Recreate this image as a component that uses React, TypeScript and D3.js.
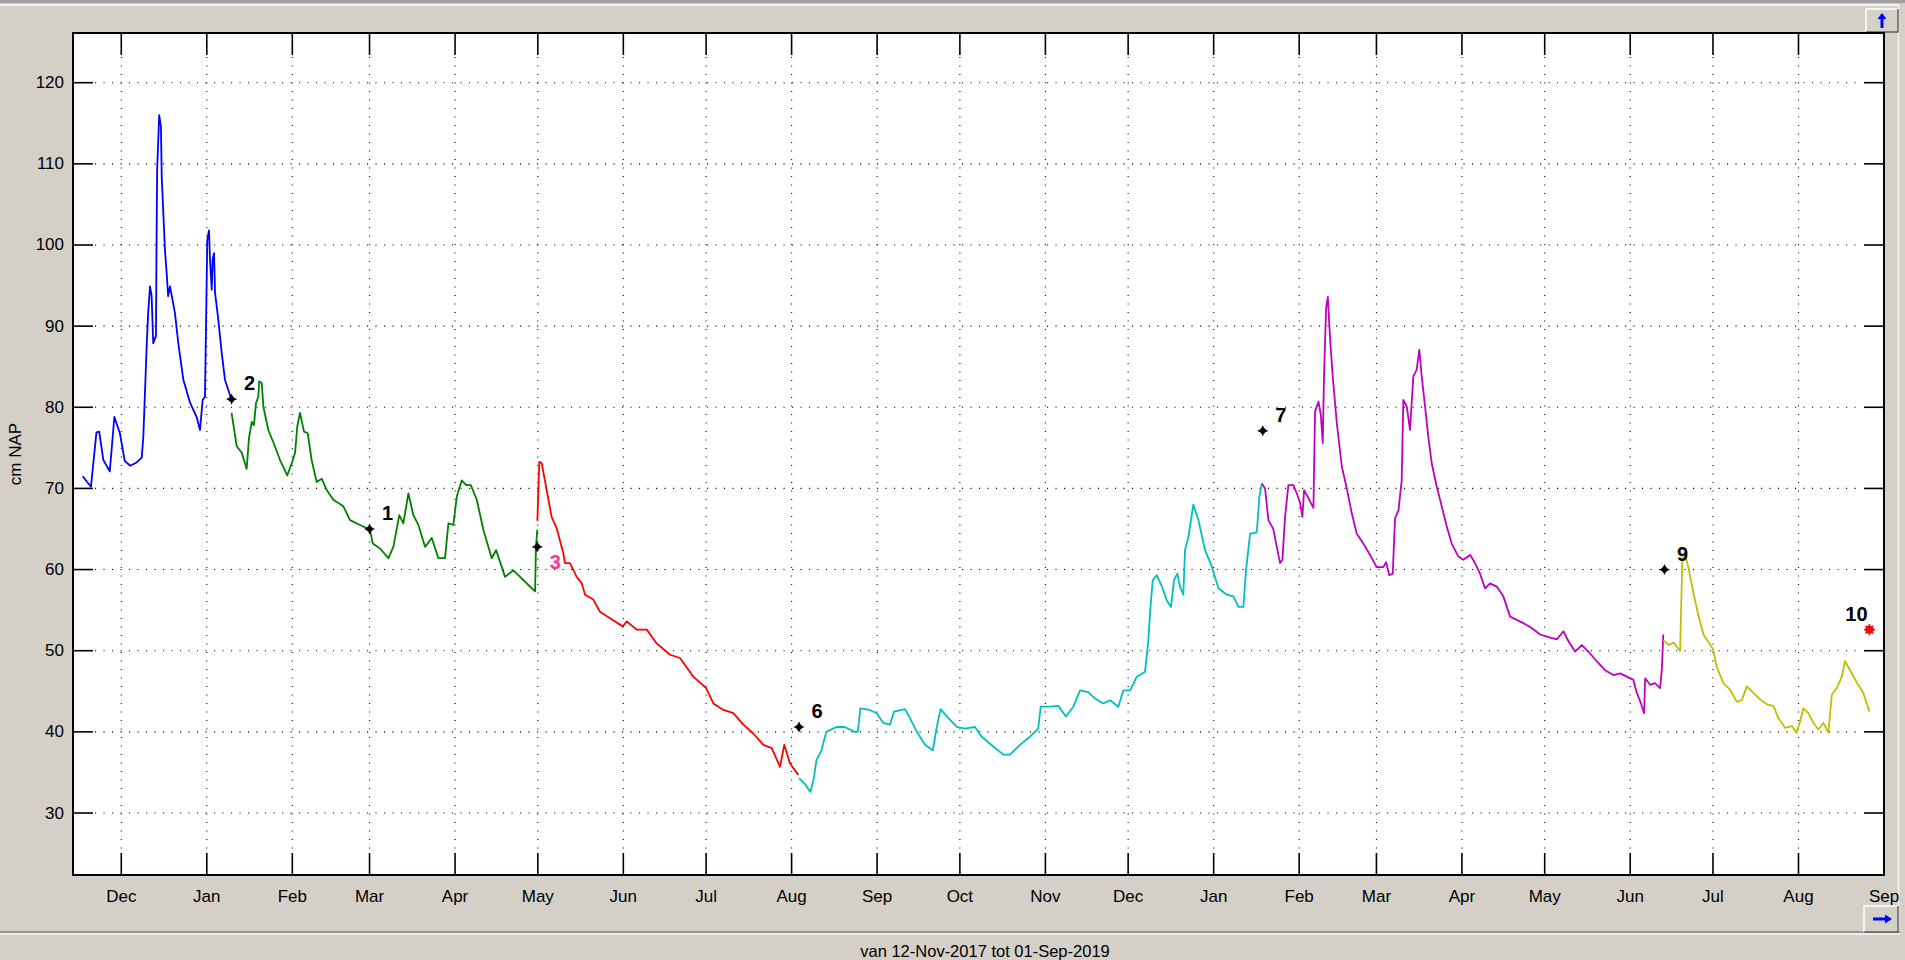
import React, { useEffect, useRef } from "react";
import * as d3 from "d3";

// water level series, one array per sensor period: [time, cm NAP]
const blueSeries: [string, number][] = [
  ["2017-11-17", 71.5], ["2017-11-20", 70.2], ["2017-11-22", 76.9], ["2017-11-23", 77.0],
  ["2017-11-24 12", 73.5], ["2017-11-26 20", 72.1], ["2017-11-28 12", 78.8], ["2017-11-30 12", 76.8],
  ["2017-12-02 06", 73.4], ["2017-12-04 06", 72.8], ["2017-12-06 14", 73.2], ["2017-12-08 10", 73.8],
  ["2017-12-09", 76.4], ["2017-12-10 06", 87.9], ["2017-12-10 18", 91.6], ["2017-12-11 10", 94.9],
  ["2017-12-12", 93.7], ["2017-12-12 14", 87.9], ["2017-12-13 14", 88.8], ["2017-12-13 18", 98.6],
  ["2017-12-14", 109.2], ["2017-12-14 18", 116.0], ["2017-12-15 09", 114.6], ["2017-12-15 16", 108.4],
  ["2017-12-16 20", 99.4], ["2017-12-17 11", 96.5], ["2017-12-18", 93.7], ["2017-12-18 16", 94.9],
  ["2017-12-20 11", 91.6], ["2017-12-21 16", 87.9], ["2017-12-23 12", 83.4], ["2017-12-26", 80.5],
  ["2017-12-28 08", 78.8], ["2017-12-29 13", 77.2], ["2017-12-30 12", 80.9], ["2017-12-31 08", 81.3],
  ["2017-12-31 17", 89.5], ["2018-01-01 04", 100.6], ["2018-01-01 19", 101.8], ["2018-01-02 04", 98.2],
  ["2018-01-02 19", 94.5], ["2018-01-03 03", 98.2], ["2018-01-03 15", 99.0], ["2018-01-04", 94.1],
  ["2018-01-05 04", 90.8], ["2018-01-06 10", 86.7], ["2018-01-07 14", 83.4], ["2018-01-10", 80.9],
];

const greenSeries: [string, number][] = [
  ["2018-01-10", 79.3], ["2018-01-11 20", 75.2], ["2018-01-13 16", 74.4], ["2018-01-15 11", 72.4],
  ["2018-01-16 07", 76.2], ["2018-01-17 07", 78.2], ["2018-01-18 02", 77.8], ["2018-01-18 20", 80.5],
  ["2018-01-19 16", 81.3], ["2018-01-20", 83.2], ["2018-01-20 22", 83.0], ["2018-01-21 12", 80.1],
  ["2018-01-23 07", 77.2], ["2018-01-25 17", 75.2], ["2018-01-27 13", 73.5], ["2018-01-30 04", 71.6],
  ["2018-01-31 19", 73.1], ["2018-02-02", 74.4], ["2018-02-02 19", 77.6], ["2018-02-03 19", 79.3],
  ["2018-02-05 06", 77.0], ["2018-02-06 14", 76.8], ["2018-02-08", 73.5], ["2018-02-09 20", 70.8],
  ["2018-02-11 16", 71.2], ["2018-02-13 11", 69.8], ["2018-02-15 21", 68.6], ["2018-02-19 12", 67.8],
  ["2018-02-21 22", 66.1], ["2018-02-25 13", 65.5], ["2018-03-01 04", 64.9], ["2018-03-02 04", 63.2],
  ["2018-03-04 19", 62.6], ["2018-03-07 20", 61.4], ["2018-03-09 15", 62.8], ["2018-03-11 19", 66.7],
  ["2018-03-13 06", 65.7], ["2018-03-15 02", 69.4], ["2018-03-16 21", 66.7], ["2018-03-18 17", 65.5],
  ["2018-03-21 03", 62.8], ["2018-03-23 13", 63.9], ["2018-03-25 23", 61.4], ["2018-03-28 09", 61.4],
  ["2018-03-29 14", 65.7], ["2018-03-31 09", 65.5], ["2018-04-01 15", 69.0], ["2018-04-03 10", 71.0],
  ["2018-04-05", 70.4], ["2018-04-06 17", 70.4], ["2018-04-08 21", 68.6], ["2018-04-11 06", 64.9],
  ["2018-04-14 07", 61.4], ["2018-04-15 21", 62.4], ["2018-04-19 03", 59.1], ["2018-04-22 03", 59.9],
  ["2018-04-24 14", 59.1], ["2018-04-27 14", 58.1], ["2018-04-30", 57.3], ["2018-04-30 08", 62.8],
  ["2018-04-30 19", 64.9],
];

const redSeries: [string, number][] = [
  ["2018-04-30 20", 66.0], ["2018-05-01 13", 73.3], ["2018-05-02 10", 73.1], ["2018-05-04 05", 69.8],
  ["2018-05-06", 66.5], ["2018-05-07 20", 65.1], ["2018-05-10 06", 62.0], ["2018-05-10 20", 60.8],
  ["2018-05-12 16", 60.8], ["2018-05-15 02", 59.1], ["2018-05-16 22", 58.3], ["2018-05-18 03", 56.9],
  ["2018-05-21 03", 56.3], ["2018-05-23 13", 54.8], ["2018-05-27 04", 54.0], ["2018-05-31 19", 53.0],
  ["2018-06-02 05", 53.6], ["2018-06-05 21", 52.6], ["2018-06-09 12", 52.6], ["2018-06-13 02", 50.9],
  ["2018-06-17 22", 49.5], ["2018-06-21 13", 49.1], ["2018-06-26 09", 46.8], ["2018-07-01", 45.4],
  ["2018-07-03 15", 43.5], ["2018-07-07 06", 42.7], ["2018-07-10 21", 42.3], ["2018-07-14 12", 40.9],
  ["2018-07-18 03", 39.8], ["2018-07-21 18", 38.4], ["2018-07-24 19", 38.0], ["2018-07-27 19", 35.7],
  ["2018-07-29 08", 38.4], ["2018-07-31 10", 36.1], ["2018-08-03 10", 34.7],
];

const cyanSeries: [string, number][] = [
  ["2018-08-03 17", 34.3], ["2018-08-05 18", 33.6], ["2018-08-07 19", 32.6], ["2018-08-09", 34.2],
  ["2018-08-10", 36.5], ["2018-08-11 19", 37.7], ["2018-08-13 14", 40.0], ["2018-08-17 06", 40.6],
  ["2018-08-20 06", 40.6], ["2018-08-23 21", 40.0], ["2018-08-25", 40.0], ["2018-08-25 22", 42.9],
  ["2018-08-29 07", 42.7], ["2018-08-31 20", 42.3], ["2018-09-03 06", 41.1], ["2018-09-05 16", 40.9],
  ["2018-09-07 03", 42.5], ["2018-09-11 03", 42.8], ["2018-09-12 22", 41.7], ["2018-09-15 09", 40.0],
  ["2018-09-18 09", 38.4], ["2018-09-21 04", 37.7], ["2018-09-22 15", 40.6], ["2018-09-24", 42.8],
  ["2018-09-26 20", 41.7], ["2018-09-29 21", 40.6], ["2018-10-02 20", 40.4], ["2018-10-06 11", 40.6],
  ["2018-10-08 22", 39.4], ["2018-10-13 03", 38.2], ["2018-10-16 18", 37.2], ["2018-10-19 04", 37.2],
  ["2018-10-22 19", 38.4], ["2018-10-26 10", 39.4], ["2018-10-29 10", 40.4], ["2018-10-30 07", 43.1],
  ["2018-11-02 16", 43.1], ["2018-11-05 16", 43.2], ["2018-11-08 11", 41.9], ["2018-11-11 03", 43.1],
  ["2018-11-13 13", 45.1], ["2018-11-16 13", 44.9], ["2018-11-19", 44.1], ["2018-11-22", 43.5],
  ["2018-11-24 10", 43.9], ["2018-11-27 10", 43.1], ["2018-11-29 06", 45.1], ["2018-12-01 17", 45.1],
  ["2018-12-04 03", 46.8], ["2018-12-07 03", 47.4], ["2018-12-08 08", 51.3], ["2018-12-09", 55.0],
  ["2018-12-09 22", 58.7], ["2018-12-11 09", 59.3], ["2018-12-13 04", 58.0], ["2018-12-15", 56.2],
  ["2018-12-16 13", 55.4], ["2018-12-17 15", 58.7], ["2018-12-18 20", 59.5], ["2018-12-19 19", 57.9],
  ["2018-12-21", 56.9], ["2018-12-21 15", 62.4], ["2018-12-22 20", 64.0], ["2018-12-24 15", 68.0],
  ["2018-12-26 11", 66.1], ["2018-12-28 21", 62.4], ["2018-12-31 07", 60.4], ["2019-01-02 17", 57.7],
  ["2019-01-05 18", 56.9], ["2019-01-08 03", 56.7], ["2019-01-10", 55.4], ["2019-01-11 18", 55.4],
  ["2019-01-12 18", 60.0], ["2019-01-14 05", 64.4], ["2019-01-16 15", 64.6], ["2019-01-17 14", 69.0],
  ["2019-01-18 11", 70.6],
];

const magentaSeries: [string, number][] = [
  ["2019-01-18 11", 70.6], ["2019-01-19 15", 70.0], ["2019-01-20 20", 66.1], ["2019-01-22 15", 65.0],
  ["2019-01-23 21", 62.8], ["2019-01-25 02", 60.8], ["2019-01-25 22", 61.2], ["2019-01-26 21", 66.5],
  ["2019-01-28 02", 70.4], ["2019-01-29 21", 70.4], ["2019-01-31 03", 69.4], ["2019-02-01 08", 68.2],
  ["2019-02-02 04", 66.5], ["2019-02-02 19", 69.8], ["2019-02-04 08", 68.8], ["2019-02-06 04", 67.6],
  ["2019-02-06 18", 79.5], ["2019-02-08", 80.7], ["2019-02-08 20", 79.1], ["2019-02-09 13", 75.6],
  ["2019-02-10", 83.8], ["2019-02-10 18", 92.2], ["2019-02-11 09", 93.6], ["2019-02-12 05", 88.4],
  ["2019-02-13 04", 83.8], ["2019-02-14 15", 78.1], ["2019-02-16 11", 72.7], ["2019-02-18 06", 70.0],
  ["2019-02-20 02", 66.9], ["2019-02-21 21", 64.4], ["2019-02-24 06", 63.2], ["2019-02-26 17", 61.8],
  ["2019-03-01 02", 60.3], ["2019-03-03 12", 60.3], ["2019-03-04 12", 60.9], ["2019-03-05 16", 59.3],
  ["2019-03-06 22", 59.5], ["2019-03-07 18", 66.3], ["2019-03-09", 67.3], ["2019-03-10 04", 71.0],
  ["2019-03-10 18", 80.9], ["2019-03-12", 80.1], ["2019-03-13 04", 77.2], ["2019-03-14 09", 83.8],
  ["2019-03-15 14", 84.6], ["2019-03-16 13", 87.1], ["2019-03-17 10", 83.8], ["2019-03-18 15", 80.1],
  ["2019-03-19 19", 76.4], ["2019-03-21 01", 73.1], ["2019-03-22 21", 70.2], ["2019-03-24 16", 67.8],
  ["2019-03-26 12", 65.3], ["2019-03-28 07", 63.2], ["2019-03-30 17", 61.6], ["2019-04-01 12", 61.2],
  ["2019-04-04", 61.8], ["2019-04-05 18", 60.8], ["2019-04-07 13", 59.5], ["2019-04-09 09", 57.7],
  ["2019-04-11 05", 58.3], ["2019-04-13 15", 57.9], ["2019-04-16", 56.7], ["2019-04-18 11", 54.2],
  ["2019-04-20 21", 53.8], ["2019-04-23 06", 53.4], ["2019-04-26 07", 52.8], ["2019-04-29 08", 52.0],
  ["2019-05-03", 51.6], ["2019-05-05 09", 51.4], ["2019-05-07 19", 52.4], ["2019-05-09 14", 51.2],
  ["2019-05-12", 49.9], ["2019-05-14 11", 50.7], ["2019-05-16 20", 49.9], ["2019-05-19 21", 48.7],
  ["2019-05-22 22", 47.6], ["2019-05-25 22", 47.0], ["2019-05-28 08", 47.2], ["2019-05-30 18", 46.8],
  ["2019-06-02 04", 46.4], ["2019-06-03 09", 44.8], ["2019-06-04 14", 43.8], ["2019-06-06 01", 42.3],
  ["2019-06-06 10", 46.6], ["2019-06-08 05", 45.8], ["2019-06-10", 46.0], ["2019-06-11 20", 45.4],
  ["2019-06-12 11", 47.6], ["2019-06-13", 52.0],
];

const yellowSeries: [string, number][] = [
  ["2019-06-13 01", 51.3], ["2019-06-14 21", 50.7], ["2019-06-16 16", 51.0], ["2019-06-19 02", 50.0],
  ["2019-06-19 22", 61.4], ["2019-06-20 22", 61.8], ["2019-06-22 03", 60.2], ["2019-06-23 22", 57.1],
  ["2019-06-25 18", 54.3], ["2019-06-27 13", 52.0], ["2019-07-01", 50.2], ["2019-07-02 09", 48.0],
  ["2019-07-04 18", 46.0], ["2019-07-07 05", 45.2], ["2019-07-09 15", 43.7], ["2019-07-11 11", 43.9],
  ["2019-07-13 06", 45.6], ["2019-07-15 16", 44.8], ["2019-07-18 02", 44.0], ["2019-07-20 12", 43.4],
  ["2019-07-22 22", 43.2], ["2019-07-24 17", 41.7], ["2019-07-27 03", 40.5], ["2019-07-29 14", 40.7],
  ["2019-07-31 09", 39.9], ["2019-08-01 14", 41.3], ["2019-08-02 19", 42.9], ["2019-08-04 14", 42.3],
  ["2019-08-06 10", 41.1], ["2019-08-08 05", 40.3], ["2019-08-10", 41.1], ["2019-08-11 20", 39.9],
  ["2019-08-13 02", 44.6], ["2019-08-14 21", 45.4], ["2019-08-16 17", 46.8], ["2019-08-17 21", 48.7],
  ["2019-08-19 17", 47.6], ["2019-08-22 03", 46.1], ["2019-08-24 12", 44.8], ["2019-08-26 17", 42.5],
];

// manual readings (numbered markers)
const markerLabels = ["2", "1", "3", "6", "7", "9", "10"];
const markerTimes = ["2018-01-10", "2018-03-01", "2018-04-30 19", "2018-08-03 16", "2019-01-18 19", "2019-06-13 10", "2019-08-26 17"];
const markerValues = [81.0, 65.0, 62.8, 40.6, 77.1, 60.0, 52.6];

const yTicks = [30, 40, 50, 60, 70, 80, 90, 100, 110, 120];
const periodText = "van 12-Nov-2017 tot 01-Sep-2019";

const seriesList = [
  { data: blueSeries, color: "#0000ff" },
  { data: greenSeries, color: "#008000" },
  { data: redSeries, color: "#ff0000" },
  { data: cyanSeries, color: "#00bfbf" },
  { data: magentaSeries, color: "#bf00bf" },
  { data: yellowSeries, color: "#bfbf00" },
];

const parseHour = d3.timeParse("%Y-%m-%d %H");
const parseDay = d3.timeParse("%Y-%m-%d");
const parse = (s: string) => (s.length > 10 ? parseHour(s) : parseDay(s)) as Date;

const W = 1905;
const H = 960;
const plot = { left: 73, right: 1884, top: 33, bottom: 875 };
const FONT = "'Liberation Sans', Arial, sans-serif";

function Chart() {
  const ref = useRef<SVGSVGElement | null>(null);

  useEffect(() => {
    if (!ref.current) return;
    const svg = d3.select(ref.current);
    svg.selectAll("*").remove();

    const x = d3
      .scaleTime()
      .domain([new Date(2017, 10, 13, 12), new Date(2019, 8, 1)])
      .range([plot.left, plot.right]);
    const y = d3.scaleLinear().domain([30, 120]).range([813, 82.7]);

    // window background
    svg.append("rect").attr("width", W).attr("height", H).attr("fill", "#d4d0c8");
    svg.append("line").attr("x1", 0).attr("x2", W).attr("y1", 1.5).attr("y2", 1.5).attr("stroke", "#a0a0a0").attr("stroke-width", 3);
    svg.append("line").attr("x1", 0).attr("x2", 1898).attr("y1", 5).attr("y2", 5).attr("stroke", "#f4f4f4").attr("stroke-width", 2);
    svg.append("line").attr("x1", 1898.5).attr("x2", 1898.5).attr("y1", 4).attr("y2", 934).attr("stroke", "#f4f4f4").attr("stroke-width", 1.5);
    svg.append("line").attr("x1", 0).attr("x2", 1900).attr("y1", 932).attr("y2", 932).attr("stroke", "#808080").attr("stroke-width", 1.5);
    svg.append("line").attr("x1", 0).attr("x2", 1900).attr("y1", 934).attr("y2", 934).attr("stroke", "#f4f4f4").attr("stroke-width", 1.5);

    // scroll buttons
    const btn = (bx: number, by: number, bw: number, bh: number) => {
      svg.append("rect").attr("x", bx).attr("y", by).attr("width", bw).attr("height", bh).attr("fill", "#d4d0c8");
      svg.append("path").attr("d", `M${bx},${by + bh}V${by}H${bx + bw}`).attr("fill", "none").attr("stroke", "#ffffff").attr("stroke-width", 1.5);
      svg.append("path").attr("d", `M${bx},${by + bh}H${bx + bw}V${by}`).attr("fill", "none").attr("stroke", "#606060").attr("stroke-width", 1.5);
    };
    btn(1866, 9, 32, 23);
    svg.append("path").attr("d", "M1882,13L1877.5,19H1880.5V28H1883.5V19H1886.5Z").attr("fill", "#0000ff");
    btn(1864, 906, 34, 26);
    svg.append("path").attr("d", "M1892,919L1885,914.5V917.5H1873V920.5H1885V923.5Z").attr("fill", "#0000ff");

    // axes area
    svg.append("rect")
      .attr("x", plot.left).attr("y", plot.top)
      .attr("width", plot.right - plot.left).attr("height", plot.bottom - plot.top)
      .attr("fill", "#ffffff");

    const months = d3.timeMonth.range(new Date(2017, 11, 1), new Date(2019, 8, 2));

    const grid = svg.append("g").attr("stroke", "#000").attr("stroke-width", 1.1).attr("stroke-dasharray", "1.1 7.4");
    grid.selectAll("line.v").data(months).join("line")
      .attr("x1", (d) => x(d)).attr("x2", (d) => x(d))
      .attr("y1", plot.top + 24).attr("y2", plot.bottom - 24);
    grid.selectAll("line.h").data(yTicks).join("line")
      .attr("class", "h")
      .attr("x1", plot.left + 22).attr("x2", plot.right - 22)
      .attr("y1", (d) => y(d)).attr("y2", (d) => y(d));

    // ticks inside the box
    const ticks = svg.append("g").attr("stroke", "#000").attr("stroke-width", 1.6);
    months.forEach((m) => {
      const px = x(m);
      ticks.append("line").attr("x1", px).attr("x2", px).attr("y1", plot.bottom).attr("y2", plot.bottom - 22);
      ticks.append("line").attr("x1", px).attr("x2", px).attr("y1", plot.top).attr("y2", plot.top + 22);
    });
    yTicks.forEach((v) => {
      ticks.append("line").attr("x1", plot.left).attr("x2", plot.left + 20).attr("y1", y(v)).attr("y2", y(v));
      ticks.append("line").attr("x1", plot.right).attr("x2", plot.right - 20).attr("y1", y(v)).attr("y2", y(v));
    });

    // series
    const line = d3
      .line<[string, number]>()
      .x((d) => x(parse(d[0])))
      .y((d) => y(d[1]));
    seriesList.forEach((s) => {
      svg.append("path").datum(s.data).attr("d", line).attr("fill", "none")
        .attr("stroke", s.color).attr("stroke-width", 1.8).attr("stroke-linejoin", "round");
    });

    // markers
    markerLabels.forEach((lab, i) => {
      const mx = x(parse(markerTimes[i]));
      const my = y(markerValues[i]);
      const last = i === markerLabels.length - 1;
      if (last) {
        const g = svg.append("g").attr("transform", `translate(${mx},${my})`);
        g.append("circle").attr("r", 4.2).attr("fill", "#ff0000");
        [0, 45, 90, 135].forEach((a) => {
          g.append("line").attr("x1", -5.5).attr("x2", 5.5).attr("y1", 0).attr("y2", 0)
            .attr("transform", `rotate(${a})`).attr("stroke", "#ff0000").attr("stroke-width", 1.6);
        });
      } else {
        const g = svg.append("g").attr("transform", `translate(${mx},${my})`);
        g.append("path").attr("d", "M0,-4.2L4.2,0L0,4.2L-4.2,0Z").attr("fill", "#000");
        g.append("path").attr("d", "M-5,0H5M0,-5V5").attr("stroke", "#000").attr("stroke-width", 1.2);
      }
      svg.append("text")
        .attr("x", last ? mx - 13 : mx + 18)
        .attr("y", (lab === "3" ? my + 15 : my - 16))
        .attr("text-anchor", "middle").attr("dominant-baseline", "central")
        .attr("font-family", FONT).attr("font-weight", "bold").attr("font-size", 20)
        .attr("fill", lab === "3" ? "#ff3399" : "#000")
        .text(lab);
    });

    // frame
    svg.append("rect")
      .attr("x", plot.left).attr("y", plot.top)
      .attr("width", plot.right - plot.left).attr("height", plot.bottom - plot.top)
      .attr("fill", "none").attr("stroke", "#000").attr("stroke-width", 2);

    // tick labels
    svg.append("g").selectAll("text").data(yTicks).join("text")
      .attr("x", plot.left - 9).attr("y", (d) => y(d)).attr("text-anchor", "end")
      .attr("dominant-baseline", "central").attr("font-family", FONT).attr("font-size", 17)
      .attr("fill", "#000").text((d) => String(d));
    svg.append("g").selectAll("text").data(months).join("text")
      .attr("x", (d) => x(d)).attr("y", 896).attr("text-anchor", "middle")
      .attr("dominant-baseline", "central").attr("font-family", FONT).attr("font-size", 17)
      .attr("fill", "#000").text((d) => d3.timeFormat("%b")(d));

    svg.append("text")
      .attr("transform", `translate(15,454) rotate(-90)`)
      .attr("text-anchor", "middle").attr("dominant-baseline", "central")
      .attr("font-family", FONT).attr("font-size", 17).attr("fill", "#000")
      .text("cm NAP");

    svg.append("text")
      .attr("x", 985).attr("y", 951).attr("text-anchor", "middle")
      .attr("dominant-baseline", "central").attr("font-family", FONT).attr("font-size", 16.5)
      .attr("fill", "#000").text(periodText);
  }, []);

  return <svg ref={ref} width={W} height={H} style={{ position: "absolute", left: 0, top: 0, display: "block" }} />;
}

export default function App() {
  return <Chart />;
}
